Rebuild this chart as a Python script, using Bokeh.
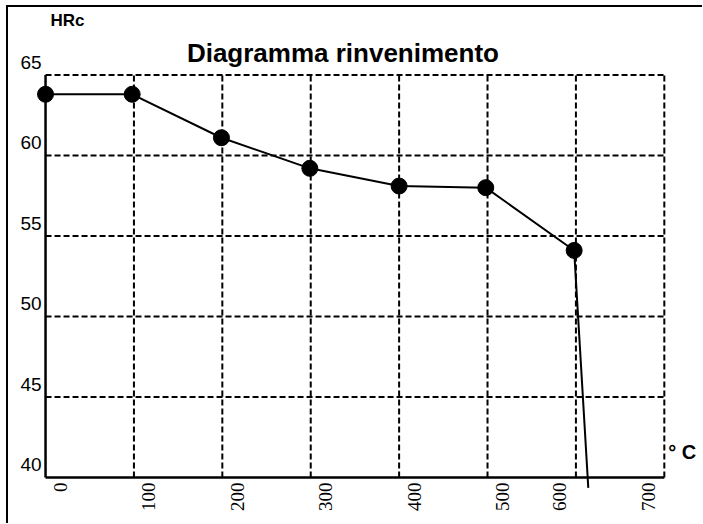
from math import pi
from bokeh.plotting import figure
from bokeh.models import ColumnDataSource, LabelSet, Label, Range1d
from bokeh.core.properties import value
from bokeh.embed import file_html
from bokeh.resources import INLINE

# ---- data ----
temperature = [0, 98, 199, 299, 400, 498, 598, 614]
hardness = [63.8, 63.8, 61.1, 59.2, 58.1, 58.0, 54.1, 39.35]
n_markers = 7
marker_temperature = temperature[:n_markers]
marker_hardness = hardness[:n_markers]

x_ticks = [0, 100, 200, 300, 400, 500, 600, 700]
x_tick_labels = ["0", "100", "200", "300", "400", "500", "600", "700"]
y_ticks = [40, 45, 50, 55, 60, 65]
y_tick_labels = ["40", "45", "50", "55", "60", "65"]

title_text = "Diagramma rinvenimento"
y_unit = "HRc"
x_unit = "° C"

p = figure(
    x_range=Range1d(-41.9, 743.2), y_range=Range1d(37.14, 69.19),
    frame_width=694, frame_height=516,
    min_border_left=0, min_border_right=0, min_border_top=0, min_border_bottom=0,
    x_axis_location=None, y_axis_location=None,
    toolbar_location=None, output_backend="svg",
)
p.outline_line_color = None
p.grid.visible = False
p.styles = {"border-top": "2px solid black", "border-left": "2px solid black",
            "margin-left": "6px", "margin-top": "5px"}

x_lo, x_hi = x_ticks[0], x_ticks[-1]
y_lo, y_hi = y_ticks[0], y_ticks[-1]

# dashed grid
p.segment(x0=x_ticks[1:], y0=[y_lo] * (len(x_ticks) - 1), x1=x_ticks[1:], y1=[y_hi] * (len(x_ticks) - 1),
          line_color="black", line_width=2, line_dash="6 3")
p.segment(x0=[x_lo] * (len(y_ticks) - 1), y0=y_ticks[1:], x1=[x_hi] * (len(y_ticks) - 1), y1=y_ticks[1:],
          line_color="black", line_width=2, line_dash="6 3")
# solid axes
p.segment(x0=[x_lo, x_lo], y0=[y_lo, y_lo], x1=[x_lo, x_hi], y1=[y_hi, y_lo],
          line_color="black", line_width=2.5)

# data
p.line(temperature, hardness, line_color="black", line_width=2)
p.scatter(marker_temperature, marker_hardness, size=16, color="black")

# tick labels
ysrc = ColumnDataSource(dict(x=[x_lo] * len(y_ticks), y=y_ticks, text=y_tick_labels))
p.add_layout(LabelSet(x="x", y="y", text="text", source=ysrc, x_offset=-4, y_offset=6,
                      text_align="right", text_baseline="alphabetic",
                      text_font=value("Liberation Sans"), text_font_size="19px",
                      text_color="black"))

xa = ColumnDataSource(dict(x=x_ticks[:6], y=[y_lo] * 6, text=x_tick_labels[:6]))
xb = ColumnDataSource(dict(x=x_ticks[6:], y=[y_lo] * 2, text=x_tick_labels[6:]))
for src, dx in ((xa, 15), (xb, -16)):
    p.add_layout(LabelSet(x="x", y="y", text="text", source=src, x_offset=dx, y_offset=-5,
                          angle=pi / 2, text_align="right", text_baseline="middle",
                          text_font=value("Liberation Serif"), text_font_size="19px",
                          text_color="black"))

p.add_layout(Label(x=350, y=y_hi, x_offset=-12, y_offset=22, text=title_text,
                   text_align="center", text_baseline="alphabetic", text_color="black",
                   text_font="Liberation Sans", text_font_style="bold", text_font_size="26px"))
p.add_layout(Label(x=x_lo, y=y_hi, x_offset=5, y_offset=54, text=y_unit,
                   text_align="left", text_baseline="alphabetic", text_color="black",
                   text_font="Liberation Sans", text_font_style="bold", text_font_size="17px"))
p.add_layout(Label(x=x_hi, y=y_lo, x_offset=4, y_offset=25, text=x_unit,
                   text_align="left", text_baseline="alphabetic", text_color="black",
                   text_font="Liberation Sans", text_font_style="bold", text_font_size="20px"))

open("out.html", "w").write(file_html(p, INLINE))
